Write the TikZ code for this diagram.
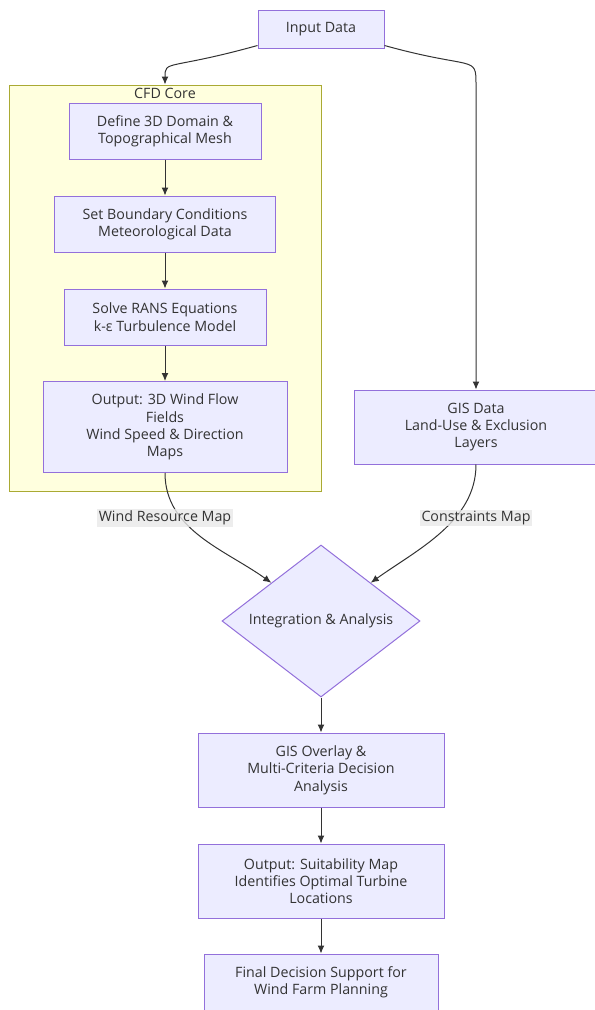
\documentclass[tikz,border=0pt]{standalone}
\usepackage{fontspec}
\setmainfont{Open Sans}
\usepackage{tikz}
\usetikzlibrary{arrows.meta,shapes.geometric}
\definecolor{nodefill}{HTML}{ECECFF}
\definecolor{nodeline}{HTML}{9370DB}
\definecolor{corefill}{HTML}{FFFFDE}
\definecolor{coreline}{HTML}{AAAA33}
\definecolor{inkgray}{HTML}{333333}
\definecolor{lblfill}{HTML}{E8E8E8}

\begin{document}
\begin{tikzpicture}[
  box/.style={draw=nodeline,fill=nodefill,line width=1bp,align=center,text=inkgray,font=\fontsize{14.3}{17.4}\selectfont,inner sep=0pt},
  flow/.style={->,>={Latex[length=8bp,width=7bp]},draw=inkgray,line width=1bp},
  lbl/.style={fill=lblfill,fill opacity=0.8,text opacity=1,text=inkgray,font=\fontsize{14.3}{16}\selectfont,inner sep=1.5bp}
]
\useasboundingbox (0bp,0bp) rectangle (595bp,-1010bp);
\node (core) at (165bp,-288bp)[draw=coreline,fill=corefill,line width=1bp,minimum width=312bp,minimum height=406bp] {};
\node (corelabel) at (165bp,-93bp)[text=inkgray,font=\fontsize{14.3}{16}\selectfont] {CFD Core};
\node (inp) at (321bp,-29bp)[box,minimum width=126bp,minimum height=38bp] {Input Data};
\node (dom) at (165bp,-131bp)[box,minimum width=192bp,minimum height=56bp] {Define 3D Domain \&\\Topographical Mesh};
\node (bnd) at (165bp,-224bp)[box,minimum width=221bp,minimum height=56bp] {Set Boundary Conditions\\Meteorological Data};
\node (rans) at (165bp,-317bp)[box,minimum width=202bp,minimum height=56bp] {Solve RANS Equations\\k-ε Turbulence Model};
\node (wind) at (165bp,-427bp)[box,minimum width=244bp,minimum height=91bp] {Output: 3D Wind Flow\\Fields\\Wind Speed \& Direction\\Maps};
\node (gis) at (476bp,-427bp)[box,minimum width=244bp,minimum height=74bp] {GIS Data\\Land-Use \& Exclusion\\Layers};
\node (integ) at (321bp,-621bp)[box,diamond,aspect=1.3,minimum width=198bp,minimum height=152bp] {Integration \& Analysis};
\node (mcda) at (321bp,-770bp)[box,minimum width=246bp,minimum height=74bp] {GIS Overlay \&\\Multi-Criteria Decision\\Analysis};
\node (suit) at (321bp,-881bp)[box,minimum width=246bp,minimum height=74bp] {Output: Suitability Map\\Identifies Optimal Turbine\\Locations};
\node (final) at (321bp,-982bp)[box,minimum width=234bp,minimum height=56bp] {Final Decision Support for\\Wind Farm Planning};
% input splits in two
\draw [flow] ([yshift=3bp]inp.south west) .. controls +(-90bp,-25bp) and +(0bp,25bp) .. (core.north);
\draw [flow] ([yshift=3bp]inp.south east) .. controls +(90bp,-25bp) and +(0bp,30bp) .. (gis.north |- core.north) -- (gis.north);
% cfd chain
\draw [flow] (dom) -- (bnd);
\draw [flow] (bnd) -- (rans);
\draw [flow] (rans) -- (wind);
% maps into the diamond
\draw [flow] (wind.south) .. controls +(0bp,-57bp) and +(-46bp,33bp) .. (integ.north west);
\draw [flow] (gis.south) .. controls +(0bp,-57bp) and +(46bp,33bp) .. (integ.north east);
\node (windmap) at (165bp,-518bp)[lbl] {Wind Resource Map};
\node (consmap) at (476bp,-518bp)[lbl] {Constraints Map};
% decision chain
\draw [flow] (integ) -- (mcda);
\draw [flow] (mcda) -- (suit);
\draw [flow] (suit) -- (final);
\end{tikzpicture}
\end{document}
